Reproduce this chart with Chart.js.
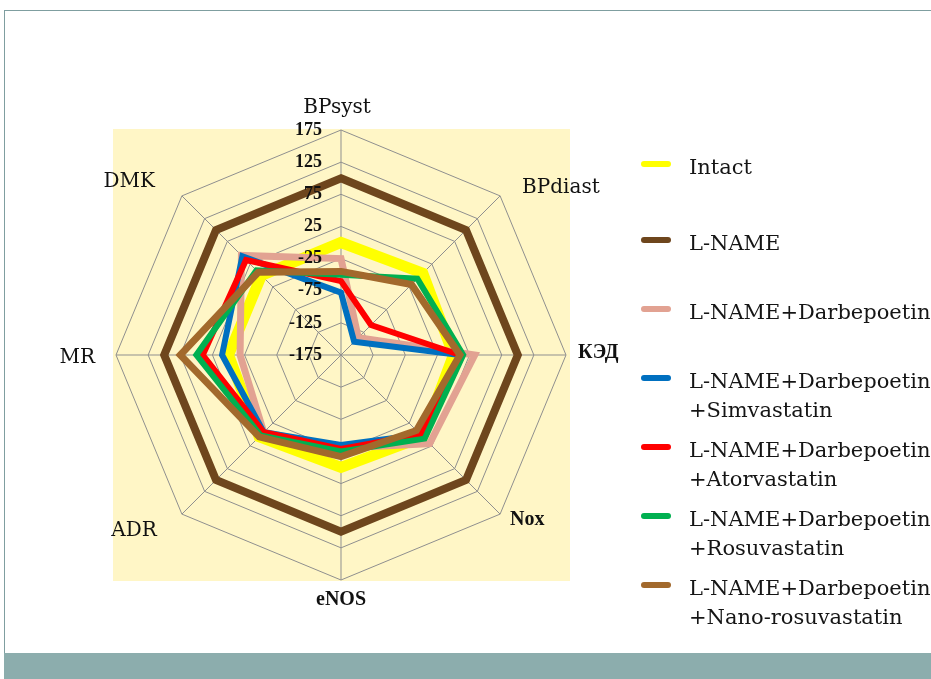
<!DOCTYPE html>
<html>
<head>
<meta charset="utf-8">
<script src="https://cdn.jsdelivr.net/npm/chart.js@4.4.1/dist/chart.umd.min.js"></script>
<style>
  html, body { margin: 0; padding: 0; background: #fff; }
  body { width: 931px; height: 679px; position: relative; overflow: hidden; font-family: "DejaVu Serif", serif; }
  #frame { position: absolute; left: 4px; top: 10px; right: 0; bottom: 26px; border-top: 1px solid #7f9ea0; border-left: 1px solid #7f9ea0; }
  #band { position: absolute; left: 4px; right: 0; bottom: 0; height: 26px; background: #8cadad; }
  #wrap { position: absolute; left: 0; top: 0; width: 931px; height: 679px; }
  #legend { position: absolute; left: 641px; top: 153px; font-size: 21px; color: #151515; }
  .item { display: flex; align-items: flex-start; height: 69px; }
  .item:first-child { height: 76px; }
  .swatch { width: 30px; height: 6px; border-radius: 3px; margin-top: 8px; margin-right: 18px; flex: none; }
  .text { line-height: 29px; white-space: nowrap; }
</style>
</head>
<body>
<div id="frame"></div>
<div id="band"></div>
<div id="wrap"><canvas id="radar"></canvas></div>
<div id="legend"></div>

<script>
// axes, clockwise from the top
const axes = ["BPsyst", "BPdiast", "КЭД", "Nox", "eNOS", "ADR", "MR", "DMK"];
const boldAxes = ["КЭД", "Nox", "eNOS"];
const radialTicks = [-175, -125, -75, -25, 25, 75, 125, 175];

const intact = [0, 5, 0, 5, 0, 5, 0, 0];
const lName = [100, 100, 100, 100, 100, 100, 100, 100];
const darbe = [-25, -137, 33, 20, -30, -5, -18, 44];
const darbeSimva = [-78, -146, 10, 0, -35, -5, 10, 42];
const darbeAtorva = [-60, -109, 10, 0, -29, -5, 40, 34];
const darbeRosuva = [-50, -7, 15, 9, -25, 2, 50, 11];
const darbeNano = [-45, -20, 10, -9, -17, 5, 75, 7];

const series = [
  { label: "Intact", data: intact, color: "#ffff00", width: 11 },
  { label: "L-NAME", data: lName, color: "#6e461d", width: 8 },
  { label: "L-NAME+Darbepoetin", data: darbe, color: "#e2a292", width: 7 },
  { label: "L-NAME+Darbepoetin\n+Simvastatin", data: darbeSimva, color: "#0070c0", width: 6 },
  { label: "L-NAME+Darbepoetin\n+Atorvastatin", data: darbeAtorva, color: "#ff0000", width: 6 },
  { label: "L-NAME+Darbepoetin\n+Rosuvastatin", data: darbeRosuva, color: "#00b050", width: 6 },
  { label: "L-NAME+Darbepoetin\n+Nano-rosuvastatin", data: darbeNano, color: "#a2692c", width: 7 },
];

// where each axis name sits relative to its outer vertex [dx, dy]
const labelShift = [[-4, -22], [22, -8], [12, -2], [10, 6], [0, 20], [-25, 17], [-21, 3], [-27, -14]];

// pale plot square behind the web
const plotBackground = {
  id: "plotBackground",
  beforeDraw(chart) {
    const s = chart.scales.r;
    const ctx = chart.ctx;
    ctx.save();
    ctx.fillStyle = "#fff6c6";
    ctx.fillRect(s.xCenter - s.drawingArea - 3, s.yCenter - s.drawingArea - 1,
      s.drawingArea * 2 + 7, s.drawingArea * 2 + 2);
    ctx.restore();
  },
};

// tick values sit left of the vertical spoke
const tickText = {
  id: "tickText",
  afterDatasetsDraw(chart) {
    const s = chart.scales.r;
    const ctx = chart.ctx;
    ctx.save();
    ctx.font = 'bold 18px "Liberation Serif"';
    ctx.fillStyle = "#111";
    ctx.textAlign = "right";
    ctx.textBaseline = "middle";
    s.ticks.forEach((t) => {
      ctx.fillText(String(t.value), s.xCenter - 19,
        s.yCenter - s.getDistanceFromCenterForValue(t.value));
    });
    ctx.restore();
  },
};

// axis names outside the outer ring
const axisText = {
  id: "axisText",
  afterDraw(chart) {
    const s = chart.scales.r;
    const ctx = chart.ctx;
    ctx.save();
    ctx.fillStyle = "#111";
    ctx.textBaseline = "middle";
    axes.forEach((name, i) => {
      const p = s.getPointPosition(i, s.drawingArea);
      const dx = Math.sin(s.getIndexAngle(i));
      const [sx, sy] = labelShift[i];
      ctx.font = boldAxes.includes(name)
        ? 'bold 20px "Liberation Serif"'
        : '20px "DejaVu Serif"';
      ctx.textAlign = Math.abs(dx) < 0.01 ? "center" : dx > 0 ? "left" : "right";
      ctx.fillText(name, p.x + sx, p.y + sy);
    });
    ctx.restore();
  },
};

const chart = new Chart(document.getElementById("radar"), {
  type: "radar",
  data: {
    labels: axes,
    datasets: series.map((s, i) => ({
      label: s.label,
      data: s.data,
      borderColor: s.color,
      backgroundColor: "transparent",
      borderWidth: s.width,
      pointRadius: 0,
      pointHoverRadius: 0,
      fill: false,
      order: series.length - i,
    })),
  },
  options: {
    responsive: true,
    maintainAspectRatio: false,
    animation: false,
    layout: { padding: { left: 116, top: 130, right: 365, bottom: 99 } },
    plugins: { legend: { display: false }, tooltip: { enabled: false } },
    scales: {
      r: {
        min: -175,
        max: 175,
        afterBuildTicks: (s) => {
          s.ticks = radialTicks.map((v) => ({ value: v }));
        },
        ticks: { display: false },
        pointLabels: { display: false },
        grid: { color: "#8f8f8f", lineWidth: 1 },
        angleLines: { color: "#8f8f8f", lineWidth: 1 },
      },
    },
  },
  plugins: [plotBackground, tickText, axisText],
});

// legend rows
document.getElementById("legend").innerHTML = series
  .map(
    (s) => `
    <div class="item">
      <div class="swatch" style="background:${s.color}"></div>
      <div class="text">${s.label.split("\n").join("<br>")}</div>
    </div>`,
  )
  .join("");
</script>
</body>
</html>
